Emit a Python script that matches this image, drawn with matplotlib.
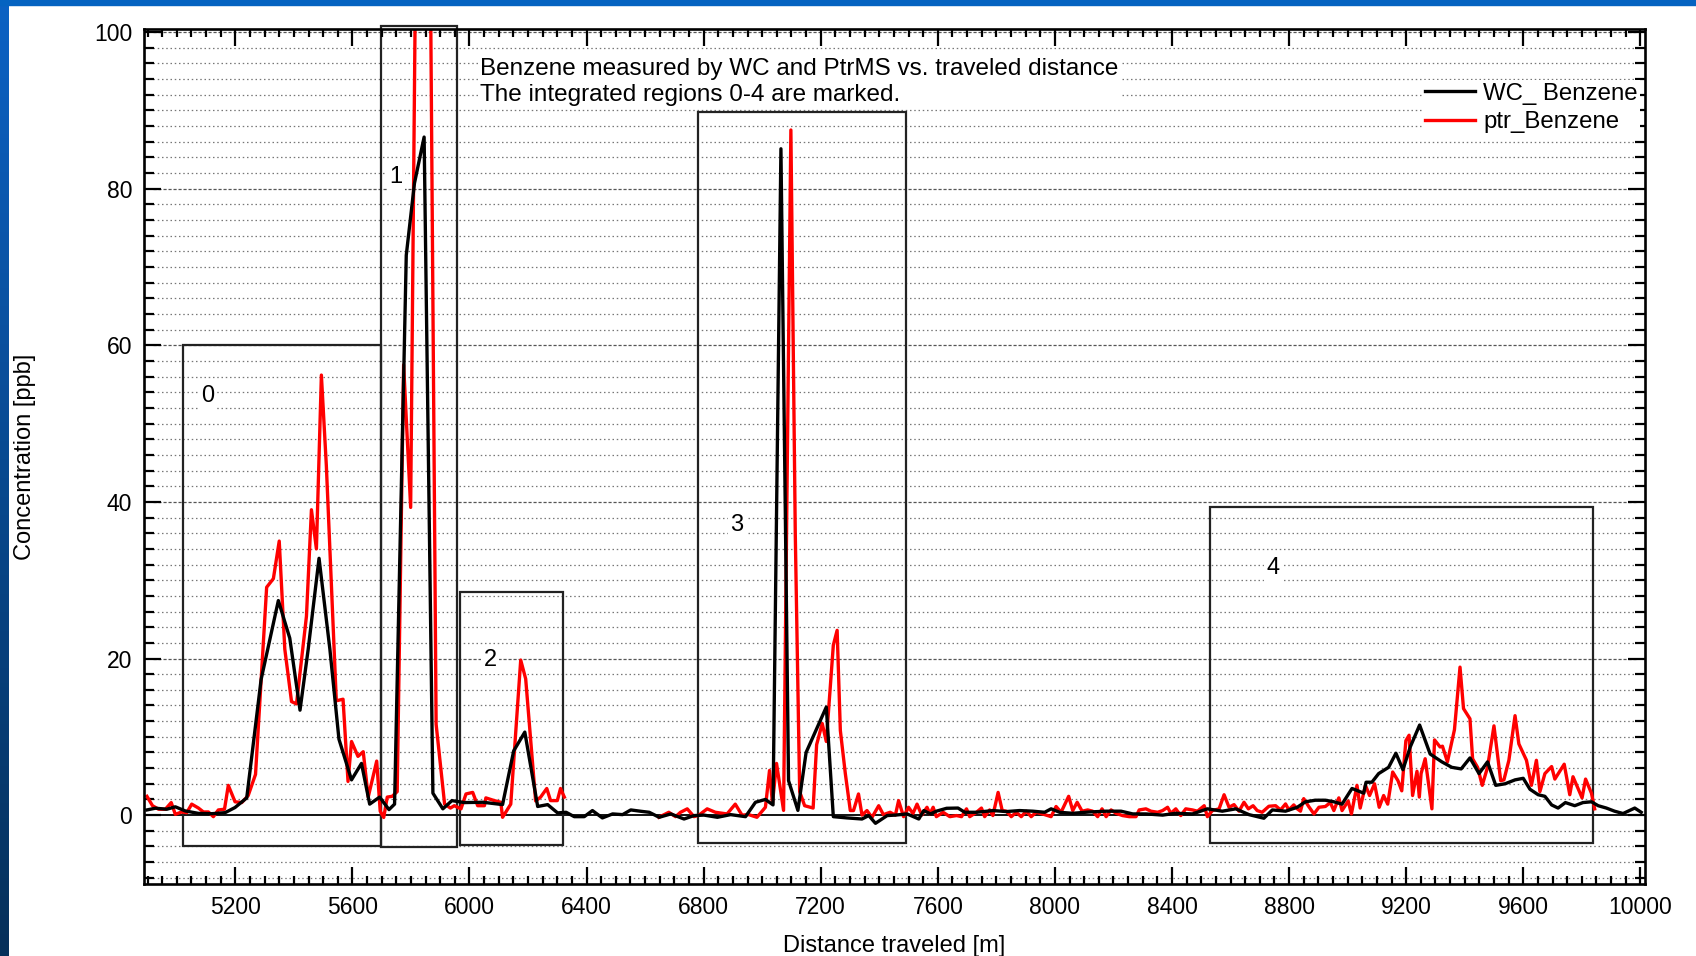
import numpy as np
import matplotlib
matplotlib.use("Agg")
import matplotlib.pyplot as plt
from matplotlib.patches import Rectangle
from matplotlib.ticker import MultipleLocator

plt.rcParams['font.family'] = ['Liberation Sans', 'DejaVu Sans']

# WC_ Benzene (black), distance [m] / concentration [ppb]
wc_dist = [4898, 4927, 4966, 4995, 5029, 5074, 5120, 5165, 5199, 5239, 5288, 5347, 5386, 5421,
           5449, 5486, 5523, 5554, 5597, 5631, 5659, 5693, 5725, 5744, 5784, 5812, 5845, 5875,
           5909, 5940, 5983, 6046, 6113, 6151, 6189, 6233, 6267, 6301, 6330, 6358, 6392, 6420,
           6454, 6489, 6523, 6551, 6585, 6614, 6648, 6688, 6733, 6767, 6801, 6847, 6892, 6943,
           6977, 7011, 7037, 7064, 7090, 7122, 7150, 7219, 7243, 7290, 7341, 7364, 7387, 7427,
           7455, 7495, 7535, 7552, 7575, 7595, 7630, 7669, 7692, 7732, 7789, 7834, 7879, 7925,
           7965, 7987, 8016, 8061, 8118, 8175, 8226, 8266, 8311, 8368, 8413, 8470, 8521, 8572,
           8618, 8663, 8714, 8743, 8788, 8828, 8856, 8890, 8924, 8953, 8981, 9015, 9055, 9063,
           9083, 9106, 9140, 9165, 9189, 9214, 9246, 9282, 9322, 9356, 9388, 9418, 9449, 9478,
           9506, 9538, 9572, 9600, 9623, 9651, 9674, 9697, 9719, 9744, 9776, 9804, 9833, 9856,
           9884, 9912, 9941, 9981, 10003]
wc_conc = [0.66, 0.88, 0.75, 1.06, 0.53, 0.22, 0.18, 0.31, 0.97, 2.2, 17.3, 27.4, 22.6, 13.4,
           21.2, 32.8, 21.2, 9.7, 4.5, 6.6, 1.4, 2.3, 0.7, 1.4, 71.5, 80.7, 86.6, 2.8,
           0.8, 1.85, 1.6, 1.64, 1.34, 8.2, 10.6, 1.1, 1.34, 0.28, 0.36, -0.2, -0.2, 0.58,
           -0.36, 0.15, 0.06, 0.66, 0.49, 0.36, -0.28, 0.15, -0.5, -0.06, 0.0, -0.28, 0.06, -0.2,
           1.64, 2.0, 1.3, 85.1, 4.4, 0.6, 8.0, 13.8, -0.2, -0.36, -0.5, -0.06, -1.05, -0.06,
           0.0, 0.15, -0.5, 0.58, 0.15, 0.5, 0.87, 0.9, 0.36, 0.36, 0.58, 0.45, 0.58, 0.5,
           0.36, 0.8, 0.36, 0.23, 0.4, 0.5, 0.5, 0.15, 0.15, 0.0, 0.23, 0.15, 0.8, 0.5,
           0.8, 0.06, -0.4, 0.66, 0.5, 1.0, 1.7, 1.9, 1.9, 1.7, 1.4, 3.4, 2.8, 4.2,
           4.2, 5.3, 6.1, 7.9, 5.8, 8.7, 11.5, 7.8, 6.8, 6.1, 5.9, 7.3, 5.3, 6.8,
           3.8, 4.0, 4.5, 4.7, 3.3, 2.6, 2.4, 1.3, 0.9, 1.6, 1.2, 1.6, 1.7, 1.2,
           0.9, 0.5, 0.2, 0.9, 0.36]

# ptr_Benzene (red); NaN = gap without data
ptr_dist = [4898, 4917, 4938, 4961, 4981, 4995, 5017, 5034, 5051, 5074, 5091, 5108, 5125, 5142,
            5163, 5176, 5199, 5222, 5244, 5269, 5307, 5330, 5350, 5369, 5392, 5409, 5443, 5460,
            5477, 5494, 5511, 5545, 5568, 5585, 5597, 5619, 5637, 5654, 5683, 5695, 5707, 5719,
            5736, 5753, 5775, 5799, 5815, 5841, 5867, 5886, 5915, 5935, 5948, 5971, 5988, 6011,
            6028, 6051, 6056, 6085, 6107, 6113, 6141, 6175, 6192, 6226, 6243, 6264, 6277, 6300,
            6311, 6324, 6480,
            6647, 6681, 6704, 6721, 6744, 6767, 6784, 6812, 6840, 6880, 6908, 6931, 6954, 6982,
            7011, 7025, 7035, 7049, 7073, 7098, 7113, 7128, 7145, 7174, 7186, 7205, 7219, 7243,
            7256, 7267, 7284, 7301, 7312, 7329, 7341, 7358, 7375, 7398, 7414, 7437, 7455, 7466,
            7483, 7500, 7515, 7529, 7545, 7563,
            7573, 7584, 7595, 7618, 7641, 7664, 7681, 7698, 7709, 7732, 7749, 7760, 7777, 7788,
            7806, 7820, 7834, 7851, 7868, 7885, 7902, 7919, 7936, 7965, 7987, 8004, 8021, 8047,
            8061, 8076, 8093, 8112, 8129, 8146, 8161, 8175, 8192, 8209, 8231, 8254, 8277, 8288,
            8311, 8328, 8351, 8368, 8385, 8396, 8413, 8430, 8447, 8470, 8487, 8510, 8521, 8538,
            8561, 8578, 8595, 8612, 8629, 8646, 8661, 8677, 8691, 8708, 8731, 8754, 8771, 8788,
            8799, 8816, 8828, 8839, 8850, 8867, 8885, 8902, 8924, 8941, 8953, 8970, 8981, 9002,
            9013, 9032, 9043, 9061, 9075, 9092, 9108, 9123, 9137, 9154, 9172, 9185, 9199, 9210,
            9222, 9237, 9245, 9251, 9265, 9288, 9297, 9316, 9324, 9341, 9365, 9384, 9396, 9418,
            9427, 9444, 9460, 9478, 9500, 9523, 9534, 9551, 9572, 9585, 9611, 9628, 9645, 9657,
            9674, 9697, 9708, 9740, 9759, 9770, 9801, 9813, 9833, 9844]
ptr_conc = [2.4, 1.2, 0.75, 0.75, 1.6, 0.1, 0.4, 0.3, 1.4, 0.9, 0.4, 0.4, -0.2, 0.66,
            0.75, 3.8, 1.7, 1.6, 2.5, 5.2, 29.1, 30.2, 35.0, 21.2, 14.5, 14.2, 25.4, 39.0,
            34.0, 56.2, 44.6, 14.6, 14.8, 4.3, 9.4, 7.5, 8.1, 2.3, 6.9, 0.5, -0.3, 2.3,
            2.4, 3.0, 57.5, 39.3, 105, 150, 105, 11.6, 1.4, 0.9, 1.2, 0.8, 2.7, 2.9,
            1.2, 1.2, 2.2, 1.85, 1.64, -0.28, 1.4, 19.8, 17.4, 1.8, 2.3, 3.4, 1.85, 1.85,
            3.4, 2.3, np.nan,
            -0.28, 0.36, -0.2, 0.36, 0.8, -0.2, 0.0, 0.8, 0.36, 0.15, 1.4, 0.0, 0.06, -0.28,
            1.0, 5.7, 1.5, 6.6, 0.6, 87.5, 36.0, 3.0, 1.2, 0.9, 9.0, 11.7, 9.4, 21.7,
            23.6, 10.8, 5.3, 0.58, 0.58, 2.7, 0.0, 0.58, -0.3, 1.2, 0.06, 0.36, 0.0, 1.85,
            -0.2, 1.0, 0.2, 1.4, 0.0, 1.0,
            0.15, 1.0, -0.2, 0.36, -0.2, -0.06, -0.2, 0.8, -0.2, 0.36, 0.9, -0.2, 0.66, -0.06,
            2.9, 0.58, 0.5, -0.2, 0.36, -0.2, 0.5, -0.2, 0.36, 0.06, -0.2, 1.1, 0.36, 2.4,
            0.58, 1.64, 0.5, 0.66, 0.5, -0.2, 0.8, -0.2, 0.66, 0.23, -0.06, -0.2, -0.2, 0.66,
            0.8, 0.5, 0.36, 0.58, 1.0, 0.23, 0.8, -0.06, 0.8, 0.66, 0.5, 1.2, -0.2, 0.58,
            0.8, 2.6, 1.0, 1.34, 0.5, 1.64, 0.8, 1.2, 0.58, 0.36, 1.13, 1.2, 0.66, 1.43,
            0.66, 1.3, 0.8, 0.5, 2.1, 1.1, 0.15, 1.0, 1.1, 1.6, 0.58, 2.2, 0.58, 1.8,
            0.15, 3.8, 0.9, 3.8, 2.5, 4.0, 1.0, 2.5, 1.4, 5.5, 4.4, 3.1, 9.5, 10.2,
            2.5, 5.6, 2.3, 5.3, 7.2, 0.8, 9.6, 8.7, 8.8, 6.8, 10.9, 18.9, 13.6, 12.3,
            7.2, 6.1, 3.8, 6.1, 11.4, 4.4, 4.5, 7.0, 12.7, 9.1, 7.0, 3.8, 7.0, 3.0,
            5.3, 6.2, 4.6, 6.5, 2.6, 4.9, 2.2, 4.6, 2.8, 0.8]

# integrated regions: label, x0, x1, y0, y1, label position
region_names = ['0', '1', '2', '3', '4']
region_x0 = [5020, 5699, 5969, 6781, 8531]
region_x1 = [5699, 5958, 6321, 7490, 9838]
region_y0 = [-3.9, -4.1, -3.8, -3.5, -3.6]
region_y1 = [60.0, 100.8, 28.5, 89.8, 39.3]
label_x = [5104, 5749, 6070, 6914, 8745]
label_y = [53.5, 81.5, 19.8, 37.1, 31.5]

fs = 17

fig = plt.figure(figsize=(16.96, 9.56), dpi=100)

# slide background strips (blue border at top and left)
fig.patches.append(Rectangle((0, 1 - 5 / 956), 1, 5 / 956, transform=fig.transFigure,
                             color='#0563c1', zorder=0))
band = fig.add_axes([0, 0, 9 / 1696, 1])
grad = np.linspace(0, 1, 256).reshape(-1, 1)
band.imshow(grad, aspect='auto', extent=(0, 1, 0, 1),
            cmap=matplotlib.colors.LinearSegmentedColormap.from_list('b', ['#0c62c4', '#05305a']))
band.axis('off')

ax = fig.add_axes([144 / 1696, 1 - 884 / 956, (1645 - 144) / 1696, (884 - 29) / 956])
ax.set_xlim(4888, 10016)
ax.set_ylim(-8.8, 100.4)

# horizontal grid lines (every 2 ppb)
for yv in np.arange(-8, 101, 2):
    if yv == 0:
        continue
    if yv % 20 == 0:
        ax.axhline(yv, xmin=0.006, xmax=0.994, color='#555555', lw=0.9, ls=(0, (2.5, 1.5)), zorder=0.8)
    else:
        ax.axhline(yv, xmin=0.006, xmax=0.994, color='#777777', lw=0.9, ls=(0, (1.2, 2.2)), zorder=0.8)
ax.axhline(0, color='black', lw=1.3, zorder=1)

for name, x0, x1, y0, y1, lx, ly in zip(region_names, region_x0, region_x1, region_y0,
                                        region_y1, label_x, label_y):
    ax.add_patch(Rectangle((x0, y0), x1 - x0, y1 - y0, fill=False, ec='#222222', lw=1.6,
                           zorder=1.5, clip_on=False))
    ax.text(lx, ly, name, fontsize=fs, ha='center', va='center', zorder=1.6,
            bbox=dict(facecolor='white', edgecolor='none', pad=2))

ax.plot(ptr_dist, ptr_conc, color='#ff0000', lw=2.4, zorder=2.1, label='ptr_Benzene')
ax.plot(wc_dist, wc_conc, color='black', lw=2.4, zorder=2.2, label='WC_ Benzene')

ax.text(6036, 96.7, 'Benzene measured by WC and PtrMS vs. traveled distance\n'
        'The integrated regions 0-4 are marked.', fontsize=17.5, ha='left', va='top',
        linespacing=1.25, zorder=1.6,
        bbox=dict(facecolor='white', edgecolor='none', pad=1))

handles, labels = ax.get_legend_handles_labels()
leg = ax.legend(handles[::-1], labels[::-1], loc='upper right', bbox_to_anchor=(0.997, 0.94),
                borderaxespad=0, fontsize=17.3, handlelength=2.1, handletextpad=0.35,
                labelspacing=0.28, frameon=True, fancybox=False, borderpad=0.1)
leg.get_frame().set_edgecolor('none')
leg.get_frame().set_facecolor('white')
leg.get_frame().set_alpha(1)
leg.set_zorder(1.7)

ax.xaxis.set_major_locator(MultipleLocator(400))
ax.xaxis.set_minor_locator(MultipleLocator(50))
ax.yaxis.set_major_locator(MultipleLocator(20))
ax.yaxis.set_minor_locator(MultipleLocator(2))
ax.set_yticks([0, 20, 40, 60, 80, 100])
ax.tick_params(which='both', direction='in', top=True, right=True, width=1.6, labelsize=16.5)
ax.tick_params(which='major', length=12.5)
ax.tick_params(axis='x', which='major', pad=9)
ax.tick_params(axis='y', which='major', pad=8.5)
ax.tick_params(axis='x', which='minor', length=6)
ax.tick_params(axis='y', which='minor', length=7)
for sp in ax.spines.values():
    sp.set_linewidth(1.9)

ax.set_xlabel('Distance traveled [m]', fontsize=fs, labelpad=11)
ax.set_ylabel('Concentration [ppb]', fontsize=fs)
ax.yaxis.set_label_coords(-0.072, 0.5)

fig.savefig('out.png', dpi=100)
